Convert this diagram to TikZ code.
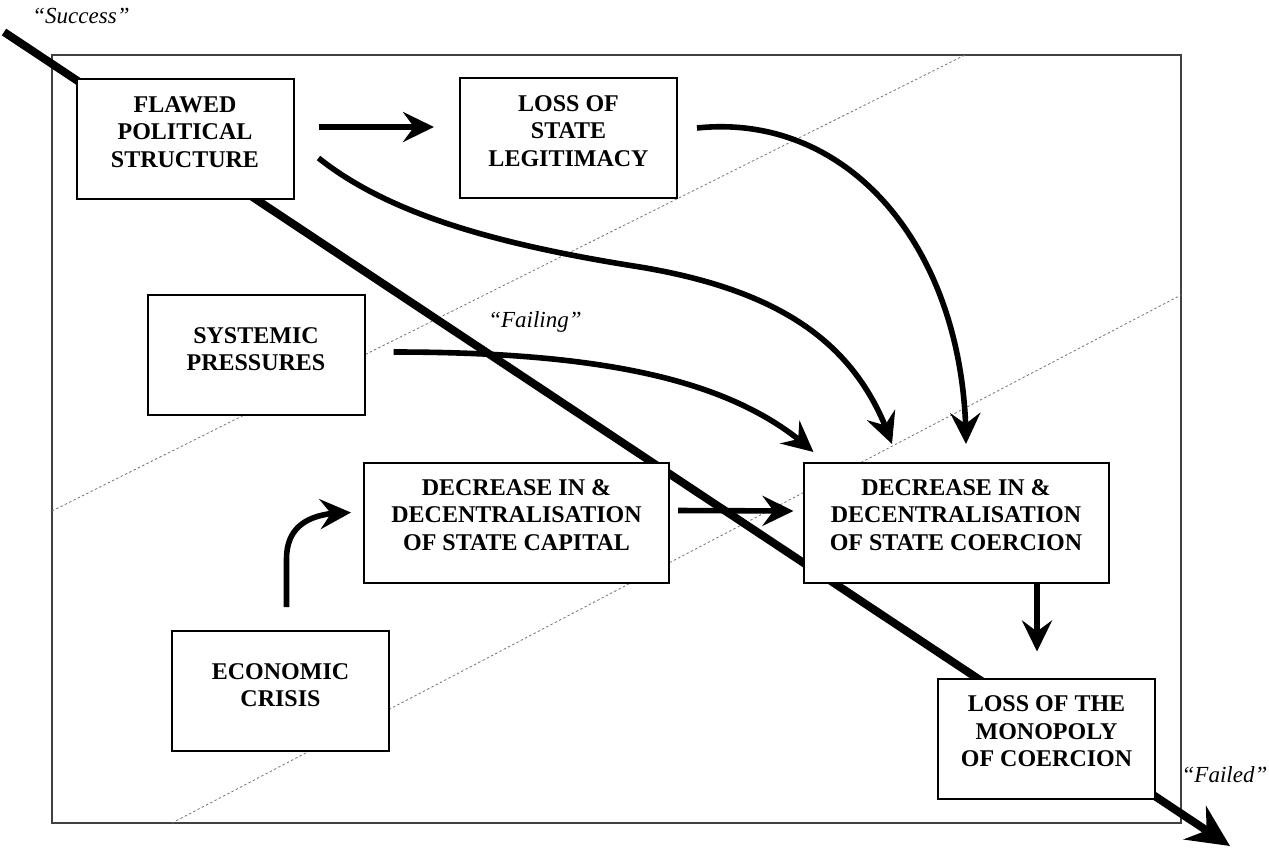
\documentclass[tikz,border=0pt]{standalone}
\usepackage{fontspec}
\setmainfont{Liberation Serif}
\usetikzlibrary{arrows.meta,bending,calc}
\begin{document}
\begin{tikzpicture}[x=0.5pt,y=-0.5pt,
  outerframe/.style={draw=black!75, line width=0.65pt},
  zoneline/.style={draw=black!55, line width=0.4pt, dash pattern=on 1.2pt off 1.2pt},
  trend/.style={line width=4pt, -{Stealth[length=21pt,width=20pt,inset=7pt]}},
  box/.style={draw, line width=1pt, fill=white, inner sep=0pt, minimum height=60pt},
  narrow/.style={box, minimum width=108.5pt},
  wide/.style={box, minimum width=152.5pt},
  boxtext/.style={align=center, font=\fontsize{12}{13.8}\selectfont\bfseries, inner sep=0pt},
  phase/.style={font=\fontsize{11.5}{13}\selectfont\itshape, anchor=base, inner sep=0pt},
  link/.style={line width=2.8pt, -{Stealth[length=15.5pt,width=15pt,inset=5.5pt]}}
]
\useasboundingbox (0,0) rectangle (1269,847);

% outer frame and the two dotted zone boundaries
\draw[outerframe] (52,55) rectangle (1181,823);
\coordinate (zA1) at (52,511);
\coordinate (zA2) at (965,55);
\coordinate (zB1) at (172,823);
\coordinate (zB2) at (1181,295);
\draw[zoneline] (zA1) -- (zA2);
\draw[zoneline] (zB1) -- (zB2);

% the success-to-failure trajectory
\coordinate (success) at (4,32);
\coordinate (failed) at (1230,846);
\draw[trend] (success) -- (failed);

% boxes
\node[narrow] (flawed) at (185,139) {};
\node[boxtext] (flawed-t) at (185,132) {FLAWED\\POLITICAL\\STRUCTURE};

\node[narrow] (legit) at (568.5,138) {};
\node[boxtext] (legit-t) at (568.5,131) {LOSS OF\\STATE\\LEGITIMACY};

\node[narrow] (systemic) at (256,355) {};
\node[boxtext] (systemic-t) at (256,349) {SYSTEMIC\\PRESSURES};

\node[wide] (capital) at (516.5,522.5) {};
\node[boxtext] (capital-t) at (516.5,515) {DECREASE IN \&\\DECENTRALISATION\\OF STATE CAPITAL};

\node[narrow] (economic) at (280.5,691) {};
\node[boxtext] (economic-t) at (280.5,685) {ECONOMIC\\CRISIS};

\node[wide] (coercion) at (956,523) {};
\node[boxtext] (coercion-t) at (956,515) {DECREASE IN \&\\DECENTRALISATION\\OF STATE COERCION};

\node[narrow] (monopoly) at (1046.5,738.5) {};
\node[boxtext] (monopoly-t) at (1046.5,731.5) {LOSS OF THE\\MONOPOLY\\OF COERCION};

% causal links
\draw[link] ($(flawed.east)+(24,-12)$) -- ($(legit.west)+(-25,-11)$);
\draw[link] ($(flawed.east)+(24,19)$) .. controls (390,215) and (500,245) .. (640,267)
            .. controls (790,292) and (860,350) .. ($(coercion.north)+(-64,-18)$);
\draw[link] ($(legit.east)+(19,-10)$) .. controls (850,112) and (966,250) .. ($(coercion.north)+(10,-18)$);
\draw[link] ($(systemic.east)+(28,-3)$) .. controls (620,352) and (740,385) .. ($(coercion.north west)+(11,-10)$);
\draw[link] ($(economic.north)+(6,-23)$) -- ++(0,-48) .. controls +(0,-35) and (312,512) .. ($(capital.west)+(-12,-10)$);
\draw[link] ($(capital.east)+(8,-12)$) -- ($(coercion.west)+(-9,-12)$);
\draw[link] ($(coercion.south)+(81,0)$) -- ($(monopoly.north)+(-9.5,-26)$);

% stage labels
\node[phase] (lbl-success) at (81,23) {“Success”};
\node[phase] (lbl-failing) at (535,327) {“Failing”};
\node[phase] (lbl-failed) at (1224.5,782) {“Failed”};
\end{tikzpicture}
\end{document}
